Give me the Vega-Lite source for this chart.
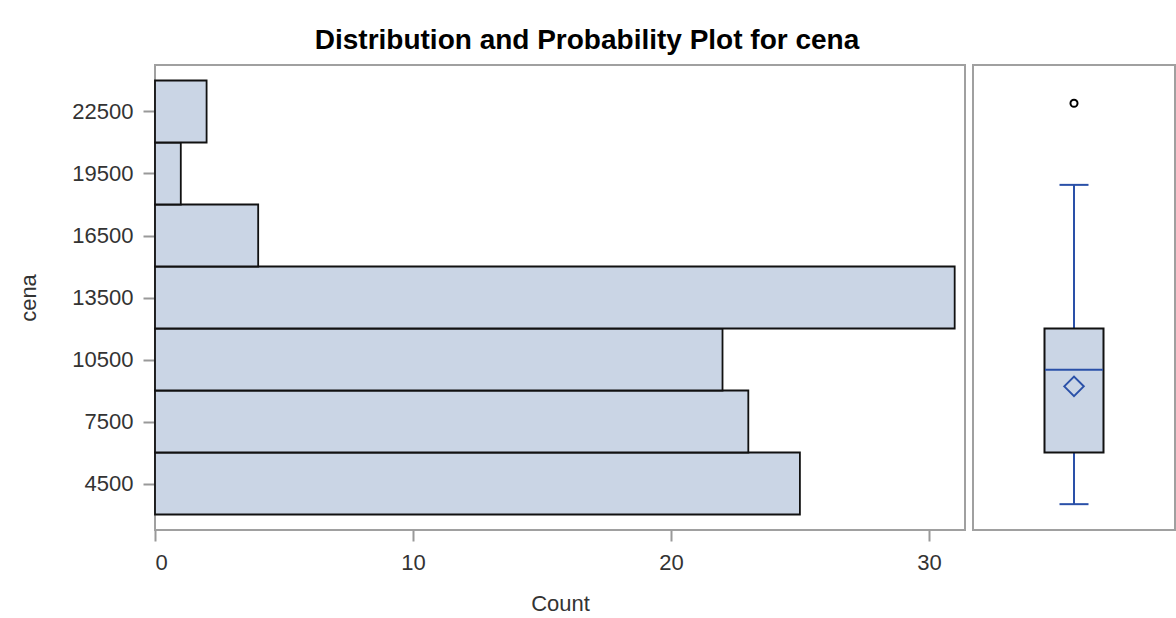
{
  "$schema": "https://vega.github.io/schema/vega-lite/v6.json",
  "padding": {"left": 16, "top": 27, "right": 0, "bottom": 0},
  "background": "white",
  "title": {"text": "Distribution and Probability Plot for cena", "font": "Liberation Sans", "fontSize": 28, "fontWeight": "bold", "color": "#000000", "anchor": "middle", "dx": -9, "offset": -13, "baseline": "alphabetic"},
  "datasets": {
    "hist": [
      {"lo": 3000, "hi": 6000, "count": 25},
      {"lo": 6000, "hi": 9000, "count": 23},
      {"lo": 9000, "hi": 12000, "count": 22},
      {"lo": 12000, "hi": 15000, "count": 31},
      {"lo": 15000, "hi": 18000, "count": 4},
      {"lo": 18000, "hi": 21000, "count": 1},
      {"lo": 21000, "hi": 24000, "count": 2}
    ],
    "box": [{"var": "cena", "min": 3500, "q1": 6000, "median": 10000, "q3": 12000, "max": 18950, "mean": 9200}],
    "outliers": [{"var": "cena", "value": 22900}]
  },
  "spacing": 6,
  "hconcat": [
    {
      "width": 810,
      "height": 465,
      "data": {"name": "hist"},
      "mark": {"type": "bar", "fill": "#CAD5E5", "stroke": "#111111", "strokeWidth": 1.8},
      "encoding": {
        "x": {"field": "count", "type": "quantitative", "scale": {"domain": [0, 31.4], "nice": false},
          "axis": {"values": [0, 10, 20, 30], "format": "d", "title": "Count", "tickSize": 11, "labelPadding": 11, "titleX": 405, "titleY": 80, "titleBaseline": "alphabetic", "titleAlign": "center"}},
        "x2": {"datum": 0},
        "y": {"field": "lo", "type": "quantitative", "scale": {"domain": [2250, 24750], "nice": false, "zero": false},
          "axis": {"values": [4500, 7500, 10500, 13500, 16500, 19500, 22500], "format": "d", "title": "cena", "tickSize": 12, "labelPadding": 10, "titleX": -120, "titleY": 232.5, "titleBaseline": "alphabetic", "titleAlign": "center", "titleAngle": -90}},
        "y2": {"field": "hi"}
      }
    },
    {
      "width": 202,
      "height": 465,
      "layer": [
        {
          "data": {"name": "box"},
          "mark": {"type": "rule", "color": "#2A50A8", "strokeWidth": 2},
          "encoding": {
            "x": {"field": "var", "type": "nominal", "axis": null},
            "y": {"field": "min", "type": "quantitative", "scale": {"domain": [2250, 24750], "nice": false, "zero": false}, "axis": null},
            "y2": {"field": "q1"}
          }
        },
        {
          "data": {"name": "box"},
          "mark": {"type": "rule", "color": "#2A50A8", "strokeWidth": 2},
          "encoding": {
            "x": {"field": "var", "type": "nominal", "axis": null},
            "y": {"field": "q3", "type": "quantitative", "axis": null},
            "y2": {"field": "max"}
          }
        },
        {
          "data": {"name": "box"},
          "mark": {"type": "bar", "width": 59, "fill": "#CAD5E5", "stroke": "#111111", "strokeWidth": 2},
          "encoding": {
            "x": {"field": "var", "type": "nominal", "axis": null},
            "y": {"field": "q1", "type": "quantitative", "axis": null},
            "y2": {"field": "q3"}
          }
        },
        {
          "data": {"name": "box"},
          "mark": {"type": "tick", "size": 58, "thickness": 2, "color": "#2A50A8", "opacity": 1, "orient": "horizontal"},
          "encoding": {
            "x": {"field": "var", "type": "nominal", "axis": null},
            "y": {"field": "median", "type": "quantitative", "axis": null}
          }
        },
        {
          "data": {"name": "box"},
          "mark": {"type": "tick", "size": 29, "thickness": 2, "color": "#2A50A8", "opacity": 1, "orient": "horizontal"},
          "encoding": {
            "x": {"field": "var", "type": "nominal", "axis": null},
            "y": {"field": "min", "type": "quantitative", "axis": null}
          }
        },
        {
          "data": {"name": "box"},
          "mark": {"type": "tick", "size": 29, "thickness": 2, "color": "#2A50A8", "opacity": 1, "orient": "horizontal"},
          "encoding": {
            "x": {"field": "var", "type": "nominal", "axis": null},
            "y": {"field": "max", "type": "quantitative", "axis": null}
          }
        },
        {
          "data": {"name": "box"},
          "mark": {"type": "point", "shape": "diamond", "size": 380, "filled": false, "stroke": "#2A50A8", "strokeWidth": 2, "opacity": 1},
          "encoding": {
            "x": {"field": "var", "type": "nominal", "axis": null},
            "y": {"field": "mean", "type": "quantitative", "axis": null}
          }
        },
        {
          "data": {"name": "outliers"},
          "mark": {"type": "point", "shape": "circle", "size": 50, "filled": false, "stroke": "#000000", "strokeWidth": 2, "opacity": 1},
          "encoding": {
            "x": {"field": "var", "type": "nominal", "axis": null},
            "y": {"field": "value", "type": "quantitative", "axis": null}
          }
        }
      ]
    }
  ],
  "config": {
    "view": {"stroke": "#a0a0a0", "strokeWidth": 2},
    "axis": {"labelFont": "Liberation Sans", "labelFontSize": 22, "labelColor": "#333333", "titleFont": "Liberation Sans", "titleFontSize": 22, "titleFontWeight": "normal", "titleColor": "#333333", "tickColor": "#999999", "tickWidth": 2, "domain": false, "grid": false}
  }
}
